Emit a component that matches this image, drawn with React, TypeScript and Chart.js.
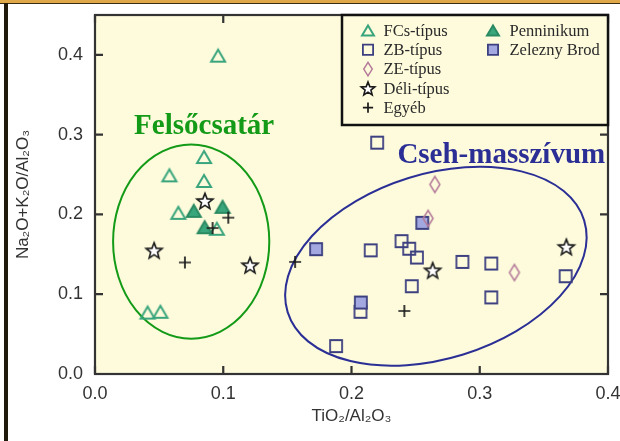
import React, { useEffect, useRef } from "react";
import { Chart, registerables } from "chart.js";

Chart.register(...registerables);

// ---- data ----
const fcsX = [0.096, 0.085, 0.058, 0.085, 0.065, 0.095, 0.041, 0.051];
const fcsY = [0.399, 0.272, 0.249, 0.242, 0.202, 0.182, 0.077, 0.078];

const zbX = [0.22, 0.215, 0.239, 0.245, 0.251, 0.2865, 0.247, 0.207, 0.188, 0.309, 0.309, 0.367];
const zbY = [0.29, 0.155, 0.1665, 0.157, 0.146, 0.1405, 0.11, 0.078, 0.035, 0.1385, 0.096, 0.1226];

const zeX = [0.265, 0.2597, 0.327];
const zeY = [0.2376, 0.195, 0.1272];

const deliX = [0.0857, 0.0461, 0.1209, 0.2633, 0.3675];
const deliY = [0.217, 0.155, 0.1364, 0.13, 0.1594];

const egyebX = [0.1039, 0.0917, 0.0701, 0.156, 0.2412];
const egyebY = [0.196, 0.183, 0.1398, 0.1405, 0.079];

const pennX = [0.077, 0.0995, 0.0855];
const pennY = [0.2045, 0.2095, 0.184];

const zelX = [0.1724, 0.2073, 0.2552];
const zelY = [0.1565, 0.0896, 0.1895];

const seriesNames = ["FCs-típus", "ZB-típus", "ZE-típus", "Déli-típus", "Egyéb", "Penninikum", "Zelezny Brod"];
const xTicks = [0, 0.1, 0.2, 0.3, 0.4];
const yTicks = [0, 0.1, 0.2, 0.3, 0.4];
const xTitle = "TiO₂/Al₂O₃";
const yTitle = "Na₂O+K₂O/Al₂O₃";

const regionNames = ["Felsőcsatár", "Cseh-masszívum"];
// ellipse outlines in data units: centre x, centre y, radius x, radius y, tilt in degrees
const regionCx = [0.075, 0.2658];
const regionCy = [0.166, 0.1351];
const regionRx = [0.0609, 0.121];
const regionRy = [0.1217, 0.1158];
const regionTilt = [0, 17.2];
const regionLabelX = [0.0851, 0.3168];
const regionLabelY = [0.3008, 0.264];

// ---- styles ----
const PLOT_BG = "#fdfbdc";
const regionColors = ["#139a17", "#2b2f95"];
const markerKinds = ["triOpen", "sqOpen", "diamond", "star", "plus", "triFill", "sqFill"];
const drawOrder = [6, 4, 2, 0, -1, 5, 3];

function drawMarker(ctx: CanvasRenderingContext2D, kind: string, x: number, y: number, s: number) {
  ctx.save();
  ctx.lineJoin = "miter";
  if (kind === "triOpen" || kind === "triFill") {
    const w = 7 * s, h = 6 * s;
    ctx.beginPath();
    ctx.moveTo(x, y - h);
    ctx.lineTo(x + w, y + h);
    ctx.lineTo(x - w, y + h);
    ctx.closePath();
    if (kind === "triFill") {
      ctx.fillStyle = "#3aa67c";
      ctx.fill();
      ctx.strokeStyle = "#2a8a62";
    } else {
      ctx.strokeStyle = "#3aa57d";
    }
    ctx.lineWidth = 2;
    ctx.stroke();
  } else if (kind === "sqOpen" || kind === "sqFill") {
    const h = 6 * s;
    ctx.beginPath();
    ctx.rect(x - h, y - h, 2 * h, 2 * h);
    if (kind === "sqFill") {
      ctx.fillStyle = "#a3a8e0";
      ctx.fill();
    }
    ctx.strokeStyle = "#3d4080";
    ctx.lineWidth = 1.8;
    ctx.stroke();
  } else if (kind === "diamond") {
    const hw = 5 * s, hh = 8 * s;
    ctx.beginPath();
    ctx.moveTo(x, y - hh);
    ctx.lineTo(x + hw, y);
    ctx.lineTo(x, y + hh);
    ctx.lineTo(x - hw, y);
    ctx.closePath();
    ctx.strokeStyle = "#b57b9a";
    ctx.lineWidth = 1.5;
    ctx.stroke();
  } else if (kind === "star") {
    const ro = 8.4 * s, ri = 3.6 * s;
    ctx.beginPath();
    for (let i = 0; i < 10; i++) {
      const r = i % 2 === 0 ? ro : ri;
      const a = -Math.PI / 2 + (i * Math.PI) / 5;
      const px = x + r * Math.cos(a), py = y + r * Math.sin(a) + 0.8 * s;
      if (i === 0) ctx.moveTo(px, py);
      else ctx.lineTo(px, py);
    }
    ctx.closePath();
    ctx.fillStyle = "#ffffff";
    ctx.fill();
    ctx.strokeStyle = "#1a1a1a";
    ctx.lineWidth = 1.6;
    ctx.stroke();
  } else if (kind === "plus") {
    const h = 6 * s;
    ctx.beginPath();
    ctx.moveTo(x - h, y);
    ctx.lineTo(x + h, y);
    ctx.moveTo(x, y - h);
    ctx.lineTo(x, y + h);
    ctx.strokeStyle = "#1a1a1a";
    ctx.lineWidth = 1.7;
    ctx.stroke();
  }
  ctx.restore();
}

function markerImage(kind: string): HTMLCanvasElement {
  const c = document.createElement("canvas");
  c.width = 22;
  c.height = 22;
  const ctx = c.getContext("2d")!;
  drawMarker(ctx, kind, 11, 11, 1);
  return c;
}

const decorPlugin = {
  id: "decor",
  beforeDraw(chart: any) {
    const { ctx, chartArea: a } = chart;
    ctx.save();
    ctx.fillStyle = "#ffffff";
    ctx.fillRect(0, 0, chart.width, chart.height);
    ctx.fillStyle = PLOT_BG;
    ctx.fillRect(a.left, a.top, a.right - a.left, a.bottom - a.top);
    ctx.restore();
  },
  beforeDatasetsDraw(chart: any) {
    const { ctx, chartArea: a } = chart;
    const xs = chart.scales.x, ys = chart.scales.y;
    const pxPerX = Math.abs(xs.getPixelForValue(1) - xs.getPixelForValue(0));
    const pxPerY = Math.abs(ys.getPixelForValue(1) - ys.getPixelForValue(0));
    ctx.save();
    // ellipses
    for (let i = 0; i < regionNames.length; i++) {
      ctx.beginPath();
      ctx.ellipse(
        xs.getPixelForValue(regionCx[i]),
        ys.getPixelForValue(regionCy[i]),
        regionRx[i] * pxPerX,
        regionRy[i] * pxPerY,
        (-regionTilt[i] * Math.PI) / 180,
        0,
        Math.PI * 2
      );
      ctx.strokeStyle = regionColors[i];
      ctx.lineWidth = 2;
      ctx.stroke();
    }
    // axis box
    ctx.strokeStyle = "#333333";
    ctx.lineWidth = 2.2;
    ctx.strokeRect(a.left, a.top, a.right - a.left, a.bottom - a.top);
    // inward ticks on all four sides
    const tl = 8;
    ctx.beginPath();
    for (const v of xTicks) {
      const px = xs.getPixelForValue(v);
      ctx.moveTo(px, a.bottom);
      ctx.lineTo(px, a.bottom - tl);
      ctx.moveTo(px, a.top);
      ctx.lineTo(px, a.top + tl);
    }
    for (const v of yTicks) {
      const py = ys.getPixelForValue(v);
      ctx.moveTo(a.left, py);
      ctx.lineTo(a.left + tl, py);
      ctx.moveTo(a.right, py);
      ctx.lineTo(a.right - tl, py);
    }
    ctx.stroke();
    // region labels
    ctx.font = 'bold 29px "Liberation Serif", "Times New Roman", serif';
    ctx.textAlign = "center";
    ctx.textBaseline = "alphabetic";
    for (let i = 0; i < regionNames.length; i++) {
      ctx.fillStyle = regionColors[i];
      ctx.fillText(regionNames[i], xs.getPixelForValue(regionLabelX[i]), ys.getPixelForValue(regionLabelY[i]));
    }
    ctx.restore();
  },
  afterDraw(chart: any) {
    const { ctx, chartArea: a } = chart;
    const boxW = 266, boxH = 110;
    const left = a.right - boxW, top = a.top;
    ctx.save();
    ctx.fillStyle = PLOT_BG;
    ctx.fillRect(left, top, boxW, boxH);
    ctx.strokeStyle = "#111111";
    ctx.lineWidth = 2.5;
    ctx.strokeRect(left, top, boxW, boxH);
    ctx.font = '16.5px "Liberation Serif", "Times New Roman", serif';
    ctx.textAlign = "left";
    ctx.textBaseline = "middle";
    ctx.fillStyle = "#2a2a2a";
    chart.data.datasets.forEach((ds: any, i: number) => {
      const col = i < 5 ? 0 : 1;
      const row = i < 5 ? i : i - 5;
      const sx = left + (col === 0 ? 26 : 151);
      const tx = left + (col === 0 ? 41.5 : 167.5);
      const y = top + 15.5 + row * 19.3;
      drawMarker(ctx, ds.markerKind, sx, y, 0.85);
      ctx.fillText(ds.label, tx, y + 1);
    });
    ctx.restore();
  },
};

const xsAll = [fcsX, zbX, zeX, deliX, egyebX, pennX, zelX];
const ysAll = [fcsY, zbY, zeY, deliY, egyebY, pennY, zelY];

export default function App() {
  const ref = useRef<HTMLCanvasElement>(null);
  useEffect(() => {
    if (!ref.current) return;
    const datasets = seriesNames.map((name, i) => ({
      label: name,
      markerKind: markerKinds[i],
      data: xsAll[i].map((x, j) => ({ x, y: ysAll[i][j] })),
      pointStyle: markerImage(markerKinds[i]),
      pointRadius: 7,
      showLine: false,
      order: drawOrder[i],
    }));
    const tickFont = { family: '"Liberation Sans", Arial, sans-serif', size: 18 };
    const titleFont = { family: '"Liberation Sans", Arial, sans-serif', size: 17 };
    const chart = new Chart(ref.current, {
      type: "scatter",
      data: { datasets } as any,
      plugins: [decorPlugin],
      options: {
        responsive: false,
        animation: false,
        layout: { padding: { top: 15, right: 12, left: 0, bottom: 0 } },
        plugins: { legend: { display: false }, tooltip: { enabled: false } },
        scales: {
          x: {
            type: "linear",
            min: 0,
            max: 0.4,
            afterBuildTicks: (s: any) => {
              s.ticks = xTicks.map((v) => ({ value: v }));
            },
            afterFit: (s: any) => {
              s.height = 67;
              s.paddingLeft = 0;
              s.paddingRight = 0;
            },
            ticks: {
              callback: (v: any) => Number(v).toFixed(1),
              font: tickFont,
              color: "#333333",
              padding: 9,
              maxRotation: 0,
              autoSkip: false,
            },
            grid: { display: false, drawTicks: false },
            border: { display: false },
            title: {
              display: true,
              text: xTitle,
              font: titleFont,
              color: "#333333",
              padding: { top: 0, bottom: 14 },
            },
          },
          y: {
            type: "linear",
            min: 0,
            max: 0.45,
            afterBuildTicks: (s: any) => {
              s.ticks = yTicks.map((v) => ({ value: v }));
            },
            afterFit: (s: any) => {
              s.width = 95;
              s.paddingTop = 0;
              s.paddingBottom = 0;
            },
            ticks: {
              callback: (v: any) => Number(v).toFixed(1),
              font: tickFont,
              color: "#333333",
              padding: 12,
              autoSkip: false,
            },
            grid: { display: false, drawTicks: false },
            border: { display: false },
            title: {
              display: true,
              text: yTitle,
              font: titleFont,
              color: "#333333",
              padding: { top: 13, bottom: 0 },
            },
          },
        },
      } as any,
    });
    return () => chart.destroy();
  }, []);

  return (
    <div style={{ position: "relative", width: 620, height: 441, overflow: "hidden", background: "#fff" }}>
      <style>{"body{margin:0}"}</style>
      <canvas ref={ref} width={620} height={441} style={{ display: "block" }} />
      <div style={{ position: "absolute", left: 0, top: 0, width: 620, height: 3, background: "#dfa94a" }} />
      <div style={{ position: "absolute", left: 0, top: 3, width: 620, height: 1, background: "#3a2c10" }} />
      <div style={{ position: "absolute", left: 4, top: 3, width: 4, height: 438, background: "#201a0c" }} />
    </div>
  );
}
